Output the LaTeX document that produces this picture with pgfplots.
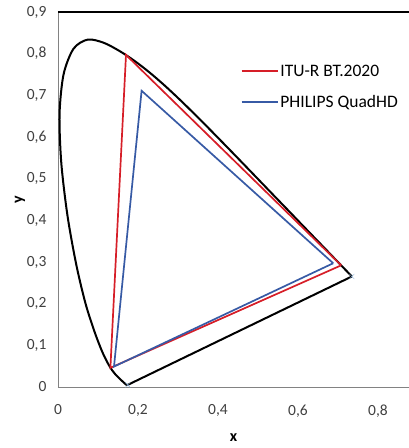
\documentclass[border=0pt]{standalone}
\usepackage{pgfplots}
\pgfplotsset{compat=1.18}
\usepackage{fontspec}
\setmainfont{Carlito}

\definecolor{bt2020}{RGB}{214,30,40}
\definecolor{philips}{RGB}{55,90,165}
\definecolor{markblue}{RGB}{140,180,220}
\definecolor{axgray}{RGB}{130,130,130}

\begin{document}
\begin{tikzpicture}
  \useasboundingbox (-58pt,-61pt) rectangle (351pt,387pt);
  \begin{axis}[
      scale only axis,
      width=351pt, height=375pt,
      xmin=0, xmax=0.8775,
      ymin=0, ymax=0.9,
      axis x line=box,
      axis y line=left,
      axis line style={-, axgray, line width=0.9pt},
      xtick={0,0.2,0.4,0.6,0.8},
      ytick={0,0.1,0.2,0.3,0.4,0.5,0.6,0.7,0.8,0.9},
      major tick length=0pt,
      /pgf/number format/.cd, use comma, fixed, precision=1, assume math mode=true,
      /pgfplots/.cd,
      tick label style={font=\fontsize{15.5}{17}\selectfont, text=black!75},
      xticklabel style={yshift=-14pt},
      yticklabel style={xshift=-8pt},
      xlabel={\textbf{x}},
      ylabel={\textbf{y}},
      label style={font=\fontsize{16}{18}\selectfont},
      xlabel style={yshift=-10pt},
      ylabel style={yshift=-5pt},
      legend style={at={(0.52,0.865)}, anchor=north west, draw=none, fill=none,
        font=\fontsize{17.5}{19}\selectfont, row sep=13.5pt, inner sep=0pt},
      legend cell align=left,
      clip=false,
    ]
    % spectral locus (CIE 1931)
    \addplot[black, line width=2pt, smooth, tension=0.5, forget plot] coordinates {
      (0.1741,0.0050) (0.1733,0.0048) (0.1714,0.0051) (0.1689,0.0069)
      (0.1644,0.0109) (0.1566,0.0177) (0.1440,0.0297) (0.1355,0.0399)
      (0.1241,0.0578) (0.1096,0.0868) (0.0913,0.1327) (0.0687,0.2007)
      (0.0454,0.2950) (0.0235,0.4127) (0.0082,0.5384) (0.0039,0.6548)
      (0.0139,0.7502) (0.0389,0.8120) (0.0743,0.8338) (0.1142,0.8262)
      (0.1547,0.8059) (0.1929,0.7816) (0.2296,0.7543) (0.2658,0.7243)
      (0.3016,0.6923) (0.3373,0.6589) (0.3731,0.6245) (0.4087,0.5896)
      (0.4441,0.5547) (0.4788,0.5202) (0.5125,0.4866) (0.5448,0.4544)
      (0.5752,0.4242) (0.6029,0.3965) (0.6270,0.3725) (0.6482,0.3514)
      (0.6658,0.3340) (0.6915,0.3083) (0.7079,0.2920) (0.7190,0.2809)
      (0.7260,0.2740) (0.7300,0.2700) (0.7334,0.2666) (0.7347,0.2653)
    };
    % purple line
    \addplot[black, line width=2pt, forget plot] coordinates {
      (0.7347,0.2653) (0.1741,0.0050)
    };
    % end points
    \addplot[only marks, mark=x, mark size=3.5pt, markblue, forget plot] coordinates {
      (0.7347,0.2653) (0.1741,0.0050)
    };
    % red triangle
    \addplot[bt2020, line width=1.7pt,
      legend image code/.code={\draw[bt2020, line width=1.7pt] (0pt,0pt) -- (36pt,0pt);}]
      coordinates {
      (0.708,0.292) (0.170,0.797) (0.131,0.046) (0.708,0.292)
    };
    \addlegendentry{ITU-R BT.2020}
    % blue triangle
    \addplot[philips, line width=1.7pt,
      legend image code/.code={\draw[philips, line width=1.7pt] (0pt,0pt) -- (36pt,0pt);}]
      coordinates {
      (0.688,0.297) (0.209,0.711) (0.140,0.049) (0.688,0.297)
    };
    \addlegendentry{PHILIPS QuadHD}
  \end{axis}
  % top border of plot area
  \draw[black, line width=1.4pt] (0pt,375pt) -- (351pt,375pt);
\end{tikzpicture}
\end{document}
